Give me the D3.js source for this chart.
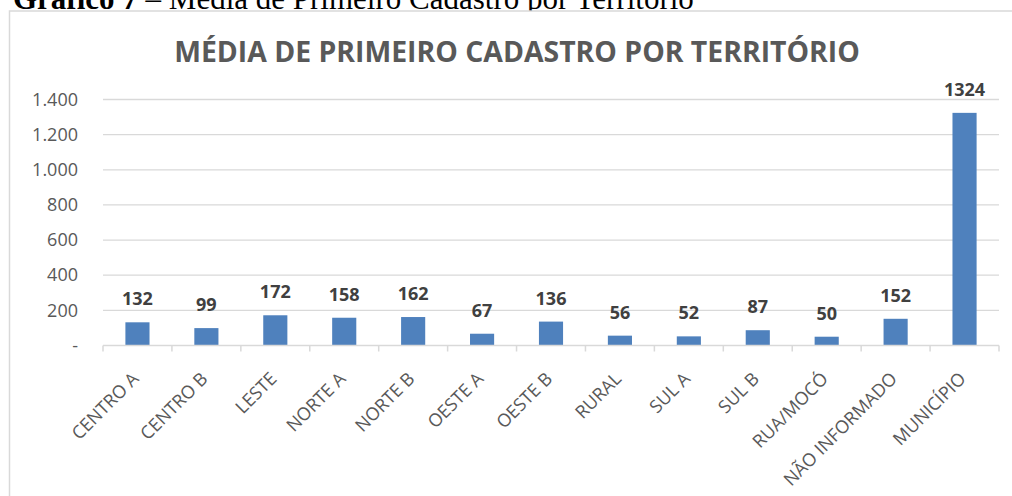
<!DOCTYPE html>
<html>
<head>
<meta charset="utf-8">
<script src="https://cdn.jsdelivr.net/npm/d3@7"></script>
<style>
  body { margin: 0; background: #fff; }
  svg { display: block; }
</style>
</head>
<body>
<div id="chart"></div>
<script>
// data
var territorios = ["CENTRO A", "CENTRO B", "LESTE", "NORTE A", "NORTE B", "OESTE A", "OESTE B",
                   "RURAL", "SUL A", "SUL B", "RUA/MOCÓ", "NÃO INFORMADO", "MUNICÍPIO"];
var medias = [132, 99, 172, 158, 162, 67, 136, 56, 52, 87, 50, 152, 1324];
var yTicks = [0, 200, 400, 600, 800, 1000, 1200, 1400];

var W = 1012, H = 496;
var margin = {top: 99.5, right: 13, bottom: 150.5, left: 103};
var width = W - margin.left - margin.right,
    height = H - margin.top - margin.bottom;

var svg = d3.select("#chart").append("svg")
    .attr("width", W)
    .attr("height", H);

// caption above the chart (cut by the page edge)
svg.append("text")
    .attr("x", 13)
    .attr("y", 9)
    .style("font-family", "'Liberation Serif', 'Times New Roman', serif")
    .style("font-size", "31px")
    .style("fill", "#000")
    .html("<tspan font-weight='bold'>Gráfico 7</tspan> – Média de Primeiro Cadastro por Território");

// chart frame
svg.append("rect")
    .attr("x", 9.5)
    .attr("y", 11)
    .attr("width", W)
    .attr("height", H)
    .attr("fill", "#fff")
    .attr("stroke", "#d9d9d9")
    .attr("stroke-width", 1.5);

// title
svg.append("text")
    .attr("x", 517)
    .attr("y", 62)
    .attr("text-anchor", "middle")
    .style("font-family", "'Open Sans', sans-serif")
    .style("font-weight", "bold")
    .style("font-size", "28.4px")
    .style("fill", "#595959")
    .text("MÉDIA DE PRIMEIRO CADASTRO POR TERRITÓRIO");

var g = svg.append("g")
    .attr("transform", "translate(" + margin.left + "," + margin.top + ")");

var x = d3.scaleBand()
    .domain(territorios)
    .range([0, width])
    .paddingInner(0.65)
    .paddingOuter(0.325);

var y = d3.scaleLinear()
    .domain([0, 1400])
    .range([height, 0]);

// gridlines
g.append("g")
  .selectAll("line")
  .data(yTicks.slice(1))
  .enter()
  .append("line")
    .attr("x1", 0)
    .attr("x2", width)
    .attr("y1", function(d) { return y(d); })
    .attr("y2", function(d) { return y(d); })
    .attr("stroke", "#d9d9d9")
    .attr("stroke-width", 1.3);

// y axis labels (no line)
var yAxis = g.append("g")
    .call(d3.axisLeft(y)
      .tickValues(yTicks)
      .tickSize(0)
      .tickPadding(25)
      .tickFormat(function(d) { return d === 0 ? "-  " : d3.format(",")(d).replace(/,/g, "."); }));
yAxis.select(".domain").remove();
yAxis.selectAll("text")
    .style("font-family", "'Open Sans', sans-serif")
    .style("font-size", "18px")
    .style("fill", "#595959");

// bars
g.append("g")
  .selectAll("rect")
  .data(medias)
  .enter()
  .append("rect")
    .attr("x", function(d, i) { return x(territorios[i]); })
    .attr("y", function(d) { return y(d); })
    .attr("width", x.bandwidth())
    .attr("height", function(d) { return height - y(d); })
    .attr("fill", "#4f81bd");

// value labels
g.append("g")
  .selectAll("text")
  .data(medias)
  .enter()
  .append("text")
    .attr("x", function(d, i) { return x(territorios[i]) + x.bandwidth() / 2; })
    .attr("y", function(d) { return y(d) - 17; })
    .attr("text-anchor", "middle")
    .style("font-family", "'Open Sans', sans-serif")
    .style("font-weight", "bold")
    .style("font-size", "18px")
    .style("fill", "#404040")
    .text(function(d) { return d; });

// x axis
var step = x.step();
var xAxis = g.append("g")
    .attr("transform", "translate(0," + height + ")");
xAxis.append("line")
    .attr("x1", 0)
    .attr("x2", width)
    .attr("stroke", "#d9d9d9")
    .attr("stroke-width", 1.5);
xAxis.selectAll(".tk")
  .data(d3.range(territorios.length + 1))
  .enter()
  .append("line")
    .attr("class", "tk")
    .attr("x1", function(i) { return i * step; })
    .attr("x2", function(i) { return i * step; })
    .attr("y1", 0)
    .attr("y2", 6)
    .attr("stroke", "#d9d9d9")
    .attr("stroke-width", 1.5);

xAxis.selectAll(".lbl")
  .data(territorios)
  .enter()
  .append("text")
    .attr("class", "lbl")
    .attr("transform", function(d) {
      return "translate(" + (x(d) + x.bandwidth() / 2 - 2) + ",30) rotate(-45)";
    })
    .attr("text-anchor", "end")
    .attr("dy", "0.35em")
    .style("font-family", "'Open Sans', sans-serif")
    .style("font-size", "18px")
    .style("fill", "#595959")
    .text(function(d) { return d; });
</script>
</body>
</html>
